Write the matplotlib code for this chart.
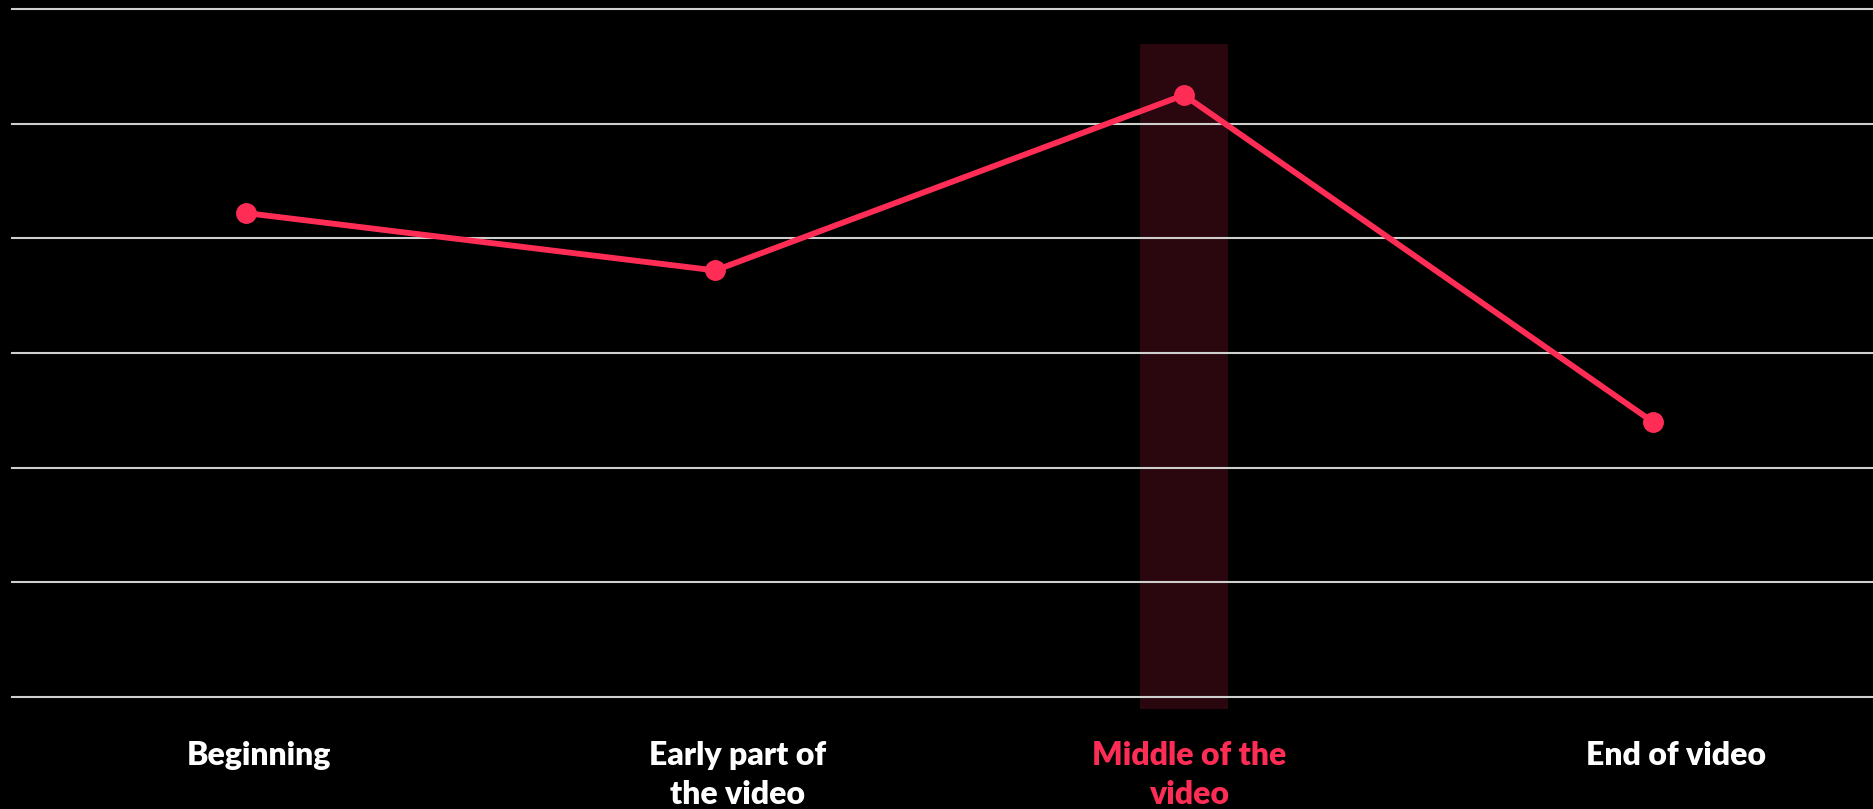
import matplotlib.pyplot as plt
import matplotlib.transforms as mtransforms

# video position vs. engagement (relative units)
stages = ["Beginning", "Early part of\nthe video", "Middle of the\nvideo", "End of video"]
scores = [42.2, 37.2, 52.5, 24.0]
grid_levels = [0, 10, 20, 30, 40, 50, 60]
highlight = 2

pink = "#ff2d55"
band = "#2a070f"

fig = plt.figure(figsize=(18.73, 8.09), dpi=100, facecolor="black")
ax = fig.add_axes([12 / 1873, 112 / 809, 1 - 12 / 1873, 688 / 809])
ax.set_facecolor("black")

xs = list(range(len(stages)))

# highlighted column behind the peak
ax.bar(xs[highlight], 58, bottom=-1.05, width=0.186, color=band,
       zorder=0, clip_on=False)

for g in grid_levels:
    ax.axhline(g, color="#cfcfcf", lw=1.5, zorder=1, clip_on=False)

ax.plot(xs, scores, color=pink, lw=4.2, marker="o", markersize=14,
        solid_capstyle="round", zorder=3)

ax.set_xlim(-0.5, 3.47)
ax.set_ylim(0, 60)
ax.set_yticks([])
ax.set_xticks(xs)
ax.set_xticklabels(stages, fontsize=23, fontweight="heavy",
                   family=["Lato", "DejaVu Sans"], color="white",
                   linespacing=1.4)
ax.get_xticklabels()[highlight].set_color(pink)
ax.tick_params(axis="x", length=0, pad=32)
# nudge labels to the right of their points
offsets = [13, 22, 5, 23]
for lab, dx in zip(ax.get_xticklabels(), offsets):
    lab.set_transform(lab.get_transform() +
                      mtransforms.ScaledTranslation(dx / 100, 0, fig.dpi_scale_trans))
for s in ax.spines.values():
    s.set_visible(False)

fig.savefig("out.png", dpi=100, facecolor="black")
